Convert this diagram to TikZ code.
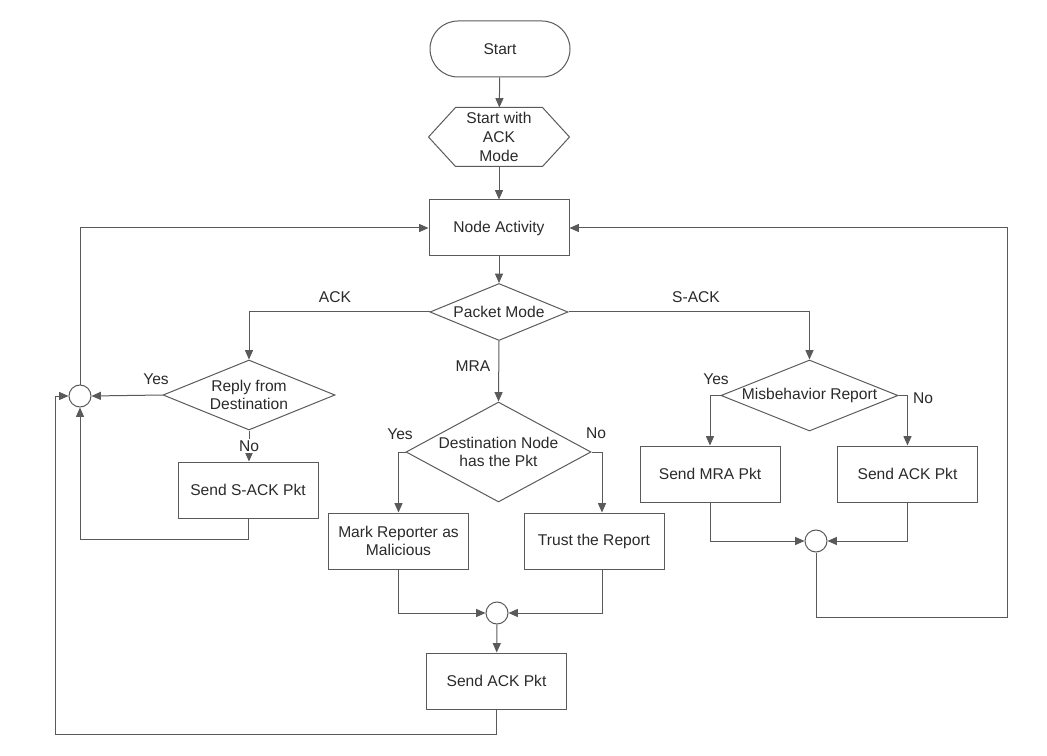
\documentclass[tikz,border=0pt]{standalone}
\usepackage{fontspec}
\setmainfont{Liberation Sans}
\usetikzlibrary{shapes.geometric,arrows.meta}
\definecolor{ln}{HTML}{5A5A5A}
\definecolor{tx}{HTML}{2A2A2A}
\begin{document}
\begin{tikzpicture}[x=0.75pt,y=-0.75pt,
  font=\fontsize{11.7}{14}\selectfont, text=tx, line width=0.75pt,
  box/.style={draw=ln, rectangle, minimum width=105pt, minimum height=42pt, align=center, inner sep=0pt},
  dia/.style={draw=ln, diamond, inner sep=0pt},
  jn/.style={draw=ln, circle, minimum size=16.5pt, inner sep=0pt},
  txt/.style={align=center, inner sep=0pt},
  lbl/.style={inner sep=1pt},
  arr/.style={draw=ln, -{Triangle[length=7pt,width=6pt]}}]
\useasboundingbox (0,0) rectangle (1047,756);

% nodes
\node[draw=ln, rounded corners=21pt, minimum width=105pt, minimum height=42pt] (start) at (500,49) {Start};
\node[txt, minimum width=105pt, minimum height=43.5pt] (hex) at (499,137) {Start with\\ACK\\Mode};
\draw[ln] (hex.west) -- ([xshift=20.25pt]hex.north west) -- ([xshift=-20.25pt]hex.north east)
  -- (hex.east) -- ([xshift=-20.25pt]hex.south east) -- ([xshift=20.25pt]hex.south west) -- cycle;
\node[box] (act) at (499,228) {Node Activity};

\node[dia, minimum width=103.5pt, minimum height=42.75pt] (pm) at (499,312) {};
\node[txt] (pmt) at (pm) {Packet Mode};

\node[dia, minimum width=129pt, minimum height=52.5pt] (rep) at (249,395) {};
\node[txt] (rept) at (rep) {Reply from\\Destination};
\node[box] (sack) at (248,490) {Send S-ACK Pkt};
\node[jn] (c1) at (80,396) {};

\node[dia, minimum width=138.75pt, minimum height=75pt] (dest) at (498.5,452) {};
\node[txt] (destt) at (dest) {Destination Node\\has the Pkt};
\node[box] (mark) at (398.5,541) {Mark Reporter as\\Malicious};
\node[box] (trust) at (594,541) {Trust the Report};
\node[jn] (c2) at (497,613) {};
\node[box] (ack2) at (496.5,681) {Send ACK Pkt};

\node[dia, minimum width=132.75pt, minimum height=53.25pt] (mis) at (809.5,395.5) {};
\node[txt] (mist) at (mis) {Misbehavior Report};
\node[box] (mra) at (710,474) {Send MRA Pkt};
\node[box] (ack3) at (907.5,474) {Send ACK Pkt};
\node[jn] (c3) at (816,541) {};

\coordinate (bl) at (55,734);
\coordinate (br) at (1007,617);

% connectors
\draw[arr] (start) -- (hex);
\draw[arr] (hex) -- (act);
\draw[arr] (act) -- (pm);
\draw[arr] (pm.west) -| (rep.north);
\draw[arr] (pm.east) -| (mis.north);
\draw[arr] (pm.south) -- (dest.north);

\draw[arr] (rep.west) -- (c1.east);
\draw[arr] (rep.south) -- (rep.south |- sack.north);
\draw[arr] (sack.south) -- ++(0,21) -| (c1.south);
\draw[arr] (c1.north) |- (act.west);
\draw[arr] (ack2.south) |- (bl) |- (c1.west);

\draw[arr] (dest.west) -| (mark.north);
\draw[arr] (dest.east) -| ([xshift=6pt]trust.north);
\draw[arr] (mark.south) |- (c2.west);
\draw[arr] ([xshift=6pt]trust.south) |- (c2.east);
\draw[arr] (c2) -- (ack2);

\draw[arr] (mis.west) -| (mra.north);
\draw[arr] (mis.east) -| (ack3.north);
\draw[arr] (mra.south) |- (c3.west);
\draw[arr] (ack3.south) |- (c3.east);
\draw[arr] (c3.south) |- (br) |- (act.east);

% labels
\node[lbl] (lack) at (335,297) {ACK};
\node[lbl] (lsack) at (696,297) {S-ACK};
\node[lbl] (lmra) at (473,366) {MRA};
\node[lbl] (ly1) at (156,379) {Yes};
\node[lbl, fill=white] (ln1) at (249,446) {No};
\node[lbl] (ly2) at (400,434) {Yes};
\node[lbl] (ln2) at (596,433) {No};
\node[lbl] (ly3) at (716,379) {Yes};
\node[lbl] (ln3) at (923,398) {No};
\end{tikzpicture}
\end{document}
